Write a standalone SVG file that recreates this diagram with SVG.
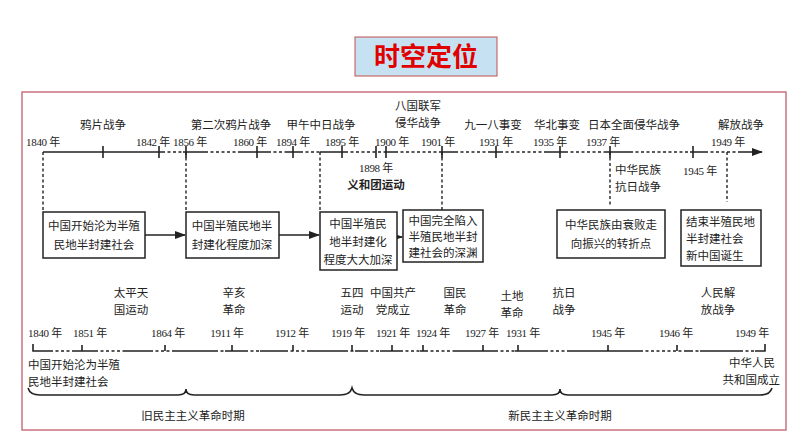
<svg xmlns="http://www.w3.org/2000/svg" width="794" height="447" viewBox="0 0 794 447">
<style>
text{font-family:"Liberation Serif","Noto Sans CJK SC",serif;font-size:11.5px;fill:#222}
.c{text-anchor:middle}
.y{font-size:11px;letter-spacing:-0.3px}
.ln{stroke:#222;stroke-width:1.6;fill:none}
.dt{stroke:#222;stroke-width:1.4;stroke-dasharray:3 2.5;fill:none}
.tk{stroke:#222;stroke-width:1.6}
.bx{fill:#fff;stroke:#222;stroke-width:1.5}
</style>
<defs><marker id="ar" viewBox="0 0 10 10" refX="9" refY="5" markerWidth="7" markerHeight="7" orient="auto"><path d="M0,1.5 L10,5 L0,8.5 Z" fill="#222"/></marker></defs>
<rect width="794" height="447" fill="#fff"/>
<g id="title"><rect x="355" y="37" width="142" height="39" fill="#c6e2f2" stroke="#c0504d" stroke-width="1"/><text x="426" y="66" class="c" style="font-family:'Noto Sans CJK SC',sans-serif;font-size:26px;font-weight:bold;fill:#e00000">时空定位</text></g>
<rect x="22" y="92" width="764" height="338" fill="none" stroke="#c9737f" stroke-width="1.5"/>
<g id="connectors">
<path class="ln" d="M43,152H162M183,152H205M240,152H268M286,152H300M320,152H345M386,152H395M440,152H455M490,152H500M545,152H565M605,152H630M690,152H705M740,152H762" marker-end="url(#ar)"/>
<path class="dt" d="M162,152H183M205,152H240M268,152H286M300,152H320M345,152H386M395,152H440M455,152H490M500,152H545M565,152H605M630,152H690M705,152H740"/>
<path class="tk" d="M103,146V158M159,146V158M186,146V158M257,146V158M293,146V158M342,146V158M376,146V158M386,146V158M442,146V158M496,146V158M560,146V158M610,146V158M693,146V158"/>
<path class="dt" d="M43,152V211M186,152V211M320,152V211M442,152V210M610,152V205M727,152V202"/>
<path class="ln" d="M145,235H185" marker-end="url(#ar)"/>
<path class="ln" d="M279,235H319" marker-end="url(#ar)"/>
<path class="ln" d="M397,237H402" marker-end="url(#ar)"/>
<path class="ln" d="M33,344V351H50M75,351H95M125,351H150M175,351H215M225,351H245M260,351H285M310,351H345M355,351H365M380,351H400M420,351H425M455,351H495M515,351H545M570,351H640M685,351H690M700,351H740M755,351H765V344"/>
<path class="dt" d="M50,351H75M95,351H125M150,351H175M215,351H225M245,351H260M285,351H310M345,351H355M365,351H380M400,351H420M425,351H455M495,351H515M545,351H570M640,351H685M690,351H700M740,351H755"/>
<path class="tk" d="M82,345V351M165,345V351M232,345V351M293,345V351M352,345V351M392,345V351M423,345V351M483,345V351M518,345V351M608,345V351M677,345V351"/>
<path class="ln" d="M28,388Q30,395 40,395H178Q186,395 186,389Q186,395 194,395H340Q350,395 352,388Q354,395 364,395H552Q560,395 560,389Q560,395 568,395H760Q770,395 772,388" stroke-width="1.3"/>
</g>
<g id="top-labels">
<text x="43" y="146" class="c y">1840 年</text><text x="103" y="129" class="c">鸦片战争</text>
<text x="153" y="146" class="c y">1842 年</text><text x="190" y="146" class="c y">1856 年</text>
<text x="231" y="129" class="c">第二次鸦片战争</text><text x="250" y="146" class="c y">1860 年</text>
<text x="321" y="129" class="c">甲午中日战争</text><text x="293" y="146" class="c y">1894 年</text>
<text x="342" y="146" class="c y">1895 年</text><text x="392" y="146" class="c y">1900 年</text>
<text x="418" y="110" class="c">八国联军</text><text x="418" y="127" class="c">侵华战争</text>
<text x="438" y="146" class="c y">1901 年</text>
<text x="493" y="129" class="c">九一八事变</text><text x="496" y="146" class="c y">1931 年</text>
<text x="557" y="129" class="c">华北事变</text><text x="550" y="146" class="c y">1935 年</text>
<text x="634" y="129" class="c">日本全面侵华战争</text><text x="603" y="146" class="c y">1937 年</text>
<text x="741" y="129" class="c">解放战争</text><text x="728" y="146" class="c y">1949 年</text>
<text x="376" y="172" class="c y">1898 年</text><text x="376" y="189" class="c" style="font-weight:bold">义和团运动</text>
<text x="615" y="174">中华民族</text><text x="615" y="191">抗日战争</text>
<text x="700" y="175" class="c y">1945 年</text>
</g>
<g id="box1"><rect class="bx" x="43" y="212" width="102" height="46"/><text x="94" y="230" class="c">中国开始沦为半殖</text><text x="94" y="249" class="c">民地半封建社会</text></g>
<g id="box2"><rect class="bx" x="186" y="212" width="93" height="46"/><text x="232" y="230" class="c">中国半殖民地半</text><text x="232" y="249" class="c">封建化程度加深</text></g>
<g id="box3"><rect class="bx" x="320" y="212" width="77" height="58"/><text x="358" y="228" class="c">中国半殖民</text><text x="358" y="246" class="c">地半封建化</text><text x="358" y="264" class="c">程度大大加深</text></g>
<g id="box4"><rect class="bx" x="403" y="210" width="80" height="52"/><text x="443" y="225" class="c">中国完全陷入</text><text x="443" y="241" class="c">半殖民地半封</text><text x="443" y="257" class="c">建社会的深渊</text></g>
<g id="box5"><rect class="bx" x="557" y="210" width="108" height="48"/><text x="611" y="229" class="c">中华民族由衰败走</text><text x="611" y="248" class="c">向振兴的转折点</text></g>
<g id="box6"><rect class="bx" x="681" y="210" width="80" height="56"/><text x="686" y="226">结束半殖民地</text><text x="686" y="243">半封建社会</text><text x="686" y="260">新中国诞生</text></g>
<g id="bottom-labels">
<text x="131" y="297" class="c">太平天</text><text x="131" y="314" class="c">国运动</text>
<text x="234" y="297" class="c">辛亥</text><text x="234" y="314" class="c">革命</text>
<text x="352" y="297" class="c">五四</text><text x="352" y="314" class="c">运动</text>
<text x="393" y="297" class="c">中国共产</text><text x="393" y="314" class="c">党成立</text>
<text x="455" y="297" class="c">国民</text><text x="455" y="314" class="c">革命</text>
<text x="512" y="300" class="c">土地</text><text x="512" y="317" class="c">革命</text>
<text x="564" y="297" class="c">抗日</text><text x="564" y="314" class="c">战争</text>
<text x="718" y="297" class="c">人民解</text><text x="718" y="314" class="c">放战争</text>
<text x="45" y="337" class="c y">1840 年</text><text x="90" y="337" class="c y">1851 年</text><text x="168" y="337" class="c y">1864 年</text>
<text x="227" y="337" class="c y">1911 年</text><text x="292" y="337" class="c y">1912 年</text><text x="348" y="337" class="c y">1919 年</text>
<text x="393" y="337" class="c y">1921 年</text><text x="433" y="337" class="c y">1924 年</text><text x="482" y="337" class="c y">1927 年</text>
<text x="523" y="337" class="c y">1931 年</text><text x="608" y="337" class="c y">1945 年</text><text x="676" y="337" class="c y">1946 年</text>
<text x="752" y="337" class="c y">1949 年</text>
<text x="28" y="369">中国开始沦为半殖</text><text x="28" y="386">民地半封建社会</text>
<text x="775" y="367" style="text-anchor:end">中华人民</text><text x="780" y="384" style="text-anchor:end">共和国成立</text>
<text x="193" y="420" class="c">旧民主主义革命时期</text><text x="560" y="420" class="c">新民主主义革命时期</text>
</g>
</svg>
